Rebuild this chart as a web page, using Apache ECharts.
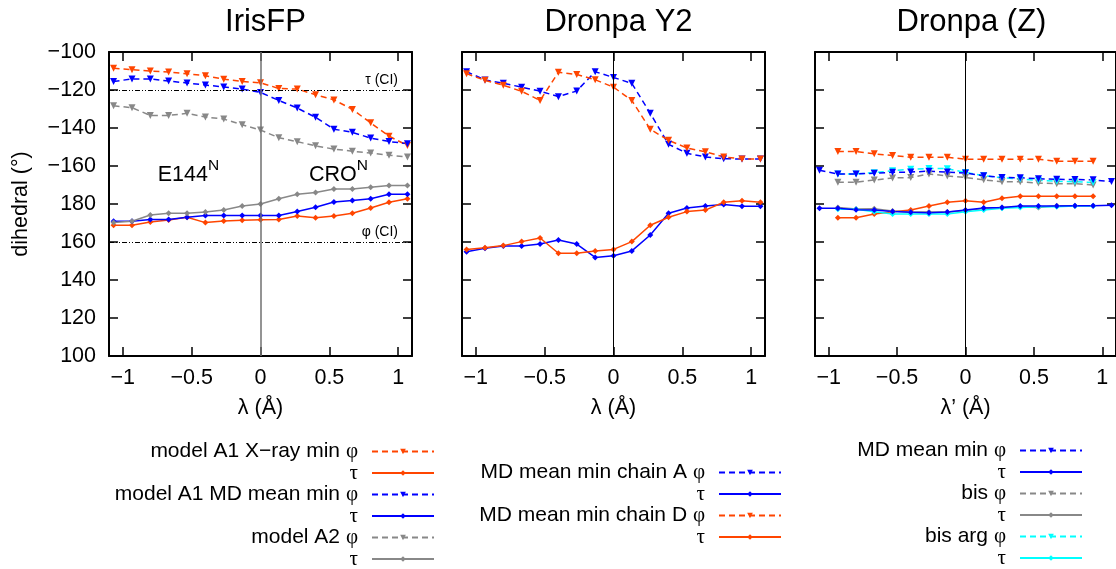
<!DOCTYPE html>
<html><head><meta charset="utf-8">
<script src="https://cdn.jsdelivr.net/npm/echarts@6/dist/echarts.min.js"></script>
<style>html,body{margin:0;padding:0;background:#fff}#c{width:1116px;height:569px}</style>
</head><body><div id="c"></div><script>
// ---------- data ----------
const lambda  = [-1.067,-0.933,-0.8,-0.667,-0.533,-0.4,-0.267,-0.133,0,0.133,0.267,0.4,0.533,0.667,0.8,0.933,1.067];
const lambdaZ = [-0.933,-0.8,-0.667,-0.533,-0.4,-0.267,-0.133,0,0.133,0.267,0.4,0.533,0.667,0.8,0.933];
const xTickValues = [-1,-0.5,0,0.5,1];
const panelTitles = ['IrisFP','Dronpa Y2','Dronpa (Z)'];
const xAxisNames = ['λ (Å)','λ (Å)','λ’ (Å)'];
const yAxisName = 'dihedral (°)';

// IrisFP (dihedral values in degrees)
const irisXrayPhi = [-108.5,-109.3,-110,-110.5,-111.5,-112.5,-114.3,-115.5,-116.2,-119.2,-119.5,-122.5,-125.2,-130.2,-137.3,-144.3,-149.2];
const irisXrayTau = [168.8,168.8,170.5,171.6,173,170.2,171.1,171.4,171.7,171.9,173.7,172.8,173.7,175.1,177.9,-179.1,-177.2];
const irisMdPhi   = [-115.5,-114.2,-114.2,-115.3,-116.3,-117.4,-118.4,-119.5,-121.3,-125.5,-129.5,-134.4,-140.6,-142.3,-145.3,-147.1,-148.3];
const irisMdTau   = [170.9,170.9,171.9,171.9,173,174,174,174,174,174,176.1,178.3,-178.9,-178.1,-177.2,-174.9,-174.9];
const irisA2Phi   = [-128.3,-129.3,-133.4,-133.4,-132.3,-134.2,-135.3,-138.3,-141.1,-145.1,-147.2,-149.4,-151.1,-152.2,-153.2,-154.3,-155.3];
const irisA2Tau   = [170.2,170.9,174.2,175.1,175.1,175.8,176.8,178.9,180,-177.2,-174.9,-174,-172.1,-172.1,-171.2,-170.2,-170.2];
const ciValues = [-120, 160];
const ciLabels = ['τ (CI)','φ (CI)'];

// Dronpa Y2
const y2APhi = [-110.4,-114.7,-116.5,-118.5,-120.6,-123.5,-120.5,-110.4,-113.4,-116.5,-132.3,-148.6,-153.3,-155.2,-156.2,-156.3,-156.3];
const y2ATau = [154.9,156.7,157.9,157.9,158.9,161.1,158.9,151.9,152.8,155.3,163.7,175.1,177.9,178.9,179.8,178.8,178.8];
const y2DPhi = [-111.4,-114.9,-117.5,-120.7,-125.5,-110.7,-111.8,-114.6,-118.5,-125.5,-140.7,-146.5,-150.5,-152.5,-155.2,-156.3,-156.3];
const y2DTau = [156.1,157,158.1,160.2,162.1,154.1,154.1,155.3,156.1,160.2,168.8,173,176,176.8,-179.1,-178.3,-179.1];

// Dronpa (Z)
const zMdPhi     = [-162.2,-164.2,-164.2,-163.8,-163.3,-163.2,-162.7,-163.2,-163.7,-165.1,-166,-166.2,-166.7,-167,-167.1,-167.3,-168.2];
const zMdTau     = [177.8,177.8,177,176.8,176,175.6,175.4,175.8,176.8,177.9,178.2,178.9,178.9,178.9,179.1,179.1,179.3];
const zBisPhi    = [-168.5,-168.5,-167.4,-166.3,-166.1,-164.2,-165.2,-166.1,-167.3,-168.3,-168.3,-169,-169.3,-169.3,-170];
const zBisTau    = [178.2,177.4,177.5,176.3,175.8,175.8,175.8,176.5,177.7,178.2,178.6,178.2,179.1,179.1,179.1];
const zBisArgPhi = [-164.2,-164.2,-163.5,-162.5,-161.7,-161.3,-161.4,-163.4,-165.1,-166.2,-166.8,-167.6,-168,-168.3,-168.7];
const zBisArgTau = [177.2,177.2,175.9,174.7,174.7,174.7,174.7,175.9,176.8,177.7,178.1,178.6,178.6,178.9,178.9];
const zXrayPhi   = [-152.4,-152.4,-153.6,-154.5,-155.4,-155.4,-155.4,-156.4,-156.5,-156.5,-156.5,-156.5,-157.5,-157.5,-157.5];
const zXrayTau   = [172.8,172.8,174.7,175.9,176.8,178.9,-179.1,-178.3,-179.1,-177,-175.9,-175.9,-175.9,-175.9,-175.9];

const regionNames = ['E144','CRO'];
const regionSup = 'N';

// ---------- layout / style ----------
const ORANGE = '#ff4500', BLUE = '#0000ff', GRAY = '#888888', CYAN = '#00ffff';
const SANS = 'Liberation Sans', SERIF = 'Liberation Serif';
const gridLefts = [109, 462, 815];
const GTOP = 52, GW = 303, GH = 304;
const regionPos = [[[-0.52,-163.5],[0.57,-163.5]],[[-0.51,139],[0.57,139]],[[-0.52,139],[0.57,139]]];

const unwrap = v => (v > 0 ? v - 360 : v);
const fmtNum = v => String(v).replace('-', '−');

const series = [];
function line(name, xs, ys, color, isPhi, p) {
  series.push({
    name, type: 'line', xAxisIndex: p * 2, yAxisIndex: p * 2,
    data: xs.map((x, i) => [x, unwrap(ys[i])]),
    symbol: isPhi ? 'triangle' : 'diamond', symbolRotate: isPhi ? 180 : 0,
    symbolSize: isPhi ? 7 : 6, showSymbol: true,
    lineStyle: { color, width: 1.5, type: isPhi ? [6, 4] : 'solid' },
    itemStyle: { color }, emphasis: { disabled: true }, animation: false, z: 3
  });
}
// panel 0
line('irisXrayPhi', lambda, irisXrayPhi, ORANGE, true, 0);
line('irisXrayTau', lambda, irisXrayTau, ORANGE, false, 0);
line('irisMdPhi', lambda, irisMdPhi, BLUE, true, 0);
line('irisMdTau', lambda, irisMdTau, BLUE, false, 0);
line('irisA2Phi', lambda, irisA2Phi, GRAY, true, 0);
line('irisA2Tau', lambda, irisA2Tau, GRAY, false, 0);
// panel 1
line('y2APhi', lambda, y2APhi, BLUE, true, 1);
line('y2ATau', lambda, y2ATau, BLUE, false, 1);
line('y2DPhi', lambda, y2DPhi, ORANGE, true, 1);
line('y2DTau', lambda, y2DTau, ORANGE, false, 1);
// panel 2
line('zXrayPhi', lambdaZ, zXrayPhi, ORANGE, true, 2);
line('zXrayTau', lambdaZ, zXrayTau, ORANGE, false, 2);
line('zBisPhi', lambdaZ, zBisPhi, GRAY, true, 2);
line('zBisTau', lambdaZ, zBisTau, GRAY, false, 2);
line('zBisArgPhi', lambdaZ, zBisArgPhi, CYAN, true, 2);
line('zBisArgTau', lambdaZ, zBisArgTau, CYAN, false, 2);
line('zMdPhi', lambda, zMdPhi, BLUE, true, 2);
line('zMdTau', lambda, zMdTau, BLUE, false, 2);

// zero lines + CI lines + region labels
for (let p = 0; p < 3; p++) {
  const mlData = [{ xAxis: 0, lineStyle: { color: p === 0 ? '#707070' : '#000', width: p === 0 ? 1.5 : 1, type: 'solid' }, label: { show: false } }];
  if (p === 0) {
    ciValues.forEach((v, i) => mlData.push({
      yAxis: unwrap(v),
      lineStyle: { color: '#000', width: 1, type: [5, 2, 1, 2, 1, 2] },
      label: { show: true, position: 'insideEndTop', formatter: ciLabels[i], color: '#000', fontSize: 14, fontFamily: SANS, distance: [14, 3] }
    }));
  }
  series.push({
    name: 'ref' + p, type: 'line', xAxisIndex: p * 2, yAxisIndex: p * 2, data: [],
    markLine: { silent: true, symbol: 'none', animation: false, data: mlData }, z: 1
  });
  series.push({
    name: 'regions' + p, type: 'scatter', xAxisIndex: p * 2, yAxisIndex: p * 2,
    data: regionPos[p].map((c, i) => ({ value: c, label: { formatter: '{b|' + regionNames[i] + '}{s|' + regionSup + '}' } })),
    symbolSize: 1, itemStyle: { color: 'rgba(0,0,0,0)' }, silent: true, animation: false,
    emphasis: { disabled: true },
    label: { show: true, position: [0, 0], align: 'center', verticalAlign: 'middle', color: '#000', opacity: 1,
      textBorderWidth: 0,
      rich: { b: { fontSize: 21.5, fontFamily: SANS, lineHeight: 28, verticalAlign: 'bottom', color: '#000' },
              s: { fontSize: 15.5, fontFamily: SANS, lineHeight: 28, verticalAlign: 'top', color: '#000' } } }
  });
}

const grids = [], xAxes = [], yAxes = [], titles = [];
const AXLINE = { show: true, onZero: false, lineStyle: { color: '#000', width: 2 } };
const TICK = { show: true, inside: true, length: 9, lineStyle: { color: '#000', width: 1.5 } };
for (let p = 0; p < 3; p++) {
  grids.push({ left: gridLefts[p], top: GTOP, width: GW, height: GH, show: false, containLabel: false });
  titles.push({ text: panelTitles[p], left: gridLefts[p] + GW / 2, top: 2, textAlign: 'center',
    textStyle: { fontSize: 31, fontWeight: 'normal', fontFamily: SANS, color: '#000' } });
  const common = { type: 'value', min: -1.1, max: 1.1, gridIndex: p, splitLine: { show: false }, axisLine: AXLINE };
  xAxes.push(Object.assign({}, common, {
    position: 'bottom',
    name: xAxisNames[p], nameLocation: 'middle', nameGap: 41,
    nameTextStyle: { fontSize: 21.5, fontFamily: SANS, color: '#000' },
    axisTick: Object.assign({ customValues: xTickValues }, TICK),
    axisLabel: { show: true, customValues: xTickValues, margin: 11, fontSize: 21.5, fontFamily: SANS, color: '#000', formatter: v => fmtNum(v) }
  }));
  xAxes.push(Object.assign({}, common, {
    position: 'top',
    axisTick: Object.assign({ customValues: xTickValues }, TICK),
    axisLabel: { show: false }
  }));
  const yc = { type: 'value', min: -260, max: -100, interval: 20, gridIndex: p, splitLine: { show: false }, axisLine: AXLINE, axisTick: TICK };
  yAxes.push(Object.assign({}, yc, {
    position: 'left',
    name: p === 0 ? yAxisName : '', nameLocation: 'middle', nameGap: 77,
    nameTextStyle: { fontSize: 21.5, fontFamily: SANS, color: '#000' },
    axisLabel: { show: p === 0, margin: 13, fontSize: 21.5, fontFamily: SANS, color: '#000',
      formatter: v => fmtNum(v < -180 ? v + 360 : (v === -180 ? 180 : v)) }
  }));
  yAxes.push(Object.assign({}, yc, { position: 'right', axisLabel: { show: false } }));
}

// legends
const legendText = {
  irisXrayPhi: ['model A1 X−ray min ', 'φ'], irisXrayTau: ['', 'τ'],
  irisMdPhi: ['model A1 MD mean min ', 'φ'], irisMdTau: ['', 'τ'],
  irisA2Phi: ['model A2 ', 'φ'], irisA2Tau: ['', 'τ'],
  y2APhi: ['MD mean min chain A ', 'φ'], y2ATau: ['', 'τ'],
  y2DPhi: ['MD mean min chain D ', 'φ'], y2DTau: ['', 'τ'],
  zMdPhi: ['MD mean min ', 'φ'], zMdTau: ['', 'τ'],
  zBisPhi: ['bis ', 'φ'], zBisTau: ['', 'τ'],
  zBisArgPhi: ['bis arg ', 'φ'], zBisArgTau: ['', 'τ']
};
const legendGroups = [
  ['irisXrayPhi','irisXrayTau','irisMdPhi','irisMdTau','irisA2Phi','irisA2Tau'],
  ['y2APhi','y2ATau','y2DPhi','y2DTau'],
  ['zMdPhi','zMdTau','zBisPhi','zBisTau','zBisArgPhi','zBisArgTau']
];
const legendPos = [{ right: 681, top: 441 }, { right: 334, top: 462 }, { right: 33, top: 440 }];
const legends = legendGroups.map((g, i) => Object.assign({
  orient: 'vertical', align: 'right', data: g, selectedMode: false, padding: 0,
  height: 200,
  itemWidth: 62, itemHeight: 7, itemGap: 0.5,
  formatter: n => { const t = legendText[n]; return (t[0] ? '{t|' + t[0] + '}' : '') + '{g|' + t[1] + '}'; },
  textStyle: { color: '#000', rich: {
    t: { fontSize: 21, fontFamily: SANS, lineHeight: 21.7, color: '#000' },
    g: { fontSize: 21, fontFamily: SERIF, lineHeight: 21.7, color: '#000', padding: [0, 9, 0, 0] } } }
}, legendPos[i]));

const chart = echarts.init(document.getElementById('c'), null, { renderer: 'canvas' });
chart.setOption({
  animation: false, backgroundColor: '#fff',
  title: titles, grid: grids, xAxis: xAxes, yAxis: yAxes, legend: legends, series
});
</script></body></html>
